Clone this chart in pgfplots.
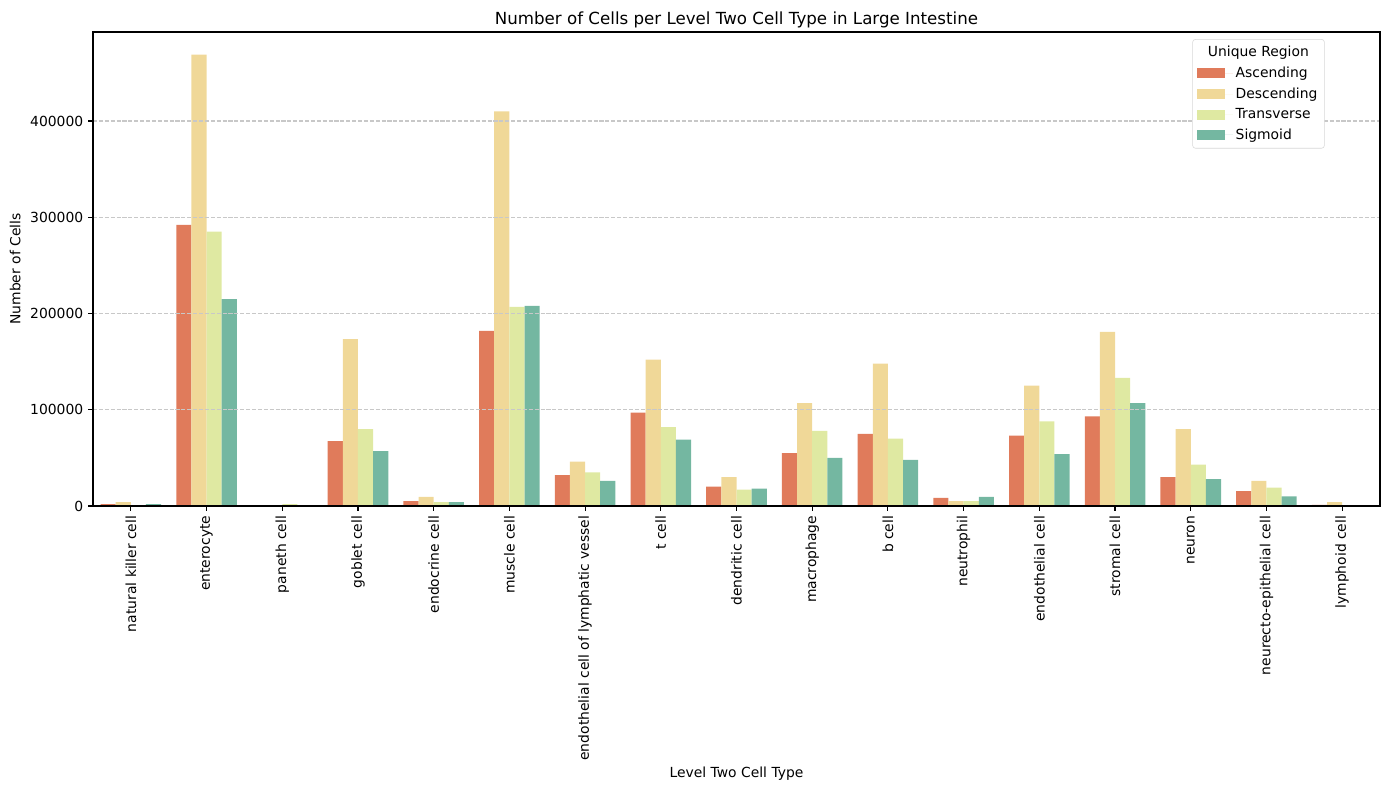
\documentclass[border=0pt]{standalone}
\usepackage{pgfplots}
\pgfplotsset{compat=1.18}
\usepackage{pgfplotstable}
\usepackage{fontspec}
\setmainfont{DejaVu Sans}
\definecolor{asc}{RGB}{224,123,91}
\definecolor{desc}{RGB}{240,216,152}
\definecolor{trans}{RGB}{223,233,162}
\definecolor{sig}{RGB}{116,183,161}
\definecolor{gridc}{RGB}{200,200,200}
\definecolor{legc}{RGB}{215,215,215}

\pgfplotstableread{
cat asc desc trans sig
0 2000 4000 1000 2000
1 292000 469000 285000 215000
2 200 300 2000 300
3 67500 173500 80000 57000
4 5000 9500 4000 4000
5 182000 410000 207000 208000
6 32000 46000 35000 26000
7 97000 152000 82000 69000
8 20000 30000 17000 18000
9 55000 107000 78000 50000
10 75000 148000 70000 48000
11 8500 5000 5000 9500
12 73000 125000 88000 54000
13 93000 181000 133000 107000
14 30000 80000 43000 28000
15 15500 26000 19000 10000
16 1200 4000 500 1000
}\datatable

\pgfplotsset{
  mybar/.style={draw=none, fill=#1,
    legend image code/.code={\fill[#1, sharp corners] (0pt,-3.6pt) rectangle (20pt,3.6pt); \path (0pt,0pt) -- (26pt,0pt);}},
}

\begin{document}
\begin{tikzpicture}
\path[use as bounding box] (-66.96pt,-204.48pt) rectangle (933.12pt,364.32pt);
\begin{axis}[
  at={(0,0)}, anchor=south west,
  scale only axis, width=926.64pt, height=341.28pt,
  ybar, bar width=0.2,
  xmin=-0.5, xmax=16.5, ymin=0, ymax=492500,
  xtick={0,...,16},
  xticklabels={natural killer cell, enterocyte, paneth cell, goblet cell, endocrine cell, muscle cell, endothelial cell of lymphatic vessel, t cell, dendritic cell, macrophage, b cell, neutrophil, endothelial cell, stromal cell, neuron, neurecto-epithelial cell, lymphoid cell},
  x tick label style={rotate=90, anchor=east, font=\fontsize{10}{12}\selectfont},
  ytick={0,100000,200000,300000,400000},
  scaled y ticks=false,
  y tick label style={font=\fontsize{10}{12}\selectfont, /pgf/number format/fixed, /pgf/number format/1000 sep={}, /pgf/number format/assume math mode=true},
  tick pos=left, tick align=outside, major tick length=3.5pt,
  tick style={black, line width=0.8pt},
  axis line style={line width=0.8pt},
  ymajorgrids, major grid style={gridc, dash pattern=on 2.96pt off 1.28pt, line width=0.8pt},
  axis on top,
  title={Number of Cells per Level Two Cell Type in Large Intestine},
  title style={font=\fontsize{12}{14}\selectfont, yshift=-6.5pt},
  xlabel={Level Two Cell Type},
  ylabel={Number of Cells},
  label style={font=\fontsize{10}{12}\selectfont},
  xlabel style={yshift=2pt},
  legend style={at={(0.957,0.985)}, anchor=north east, draw=legc, rounded corners=2pt,
    font=\fontsize{10}{12}\selectfont, row sep=1.8pt, inner sep=3pt},
  legend cell align=left,
]
\addlegendimage{empty legend}
\addlegendentry{\hspace*{-20pt}Unique Region}
\addplot[mybar=asc, bar shift=-0.3] table[x=cat, y=asc] {\datatable};
\addlegendentry{Ascending}
\addplot[mybar=desc, bar shift=-0.1] table[x=cat, y=desc] {\datatable};
\addlegendentry{Descending}
\addplot[mybar=trans, bar shift=0.1] table[x=cat, y=trans] {\datatable};
\addlegendentry{Transverse}
\addplot[mybar=sig, bar shift=0.3] table[x=cat, y=sig] {\datatable};
\addlegendentry{Sigmoid}
\end{axis}
\end{tikzpicture}
\end{document}
